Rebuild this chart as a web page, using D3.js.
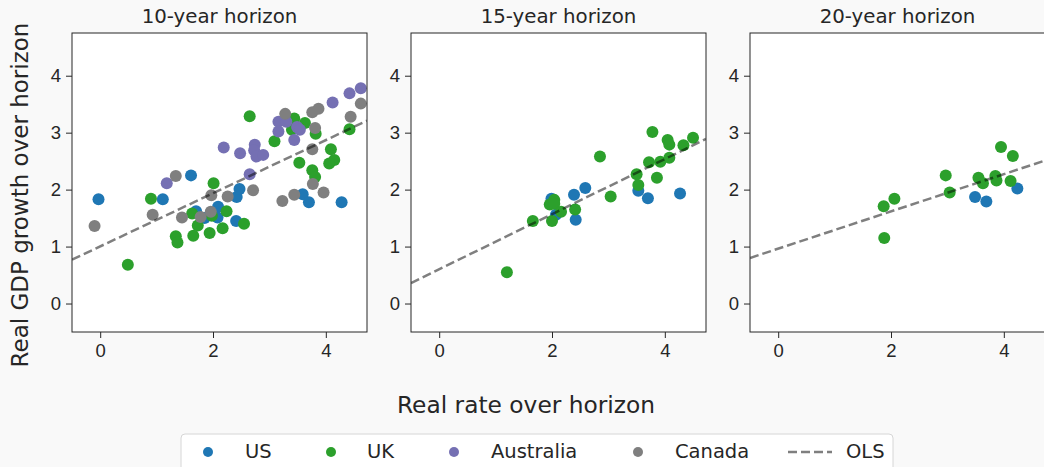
<!DOCTYPE html>
<html>
<head>
<meta charset="utf-8">
<script src="https://cdn.jsdelivr.net/npm/d3@7"></script>
<style>
  body { margin: 0; background: #f9f9f9; }
  svg { display: block; font-family: "DejaVu Sans", sans-serif; }
  .tick text { font-size: 18.5px; fill: #262626; }
  .tick line { stroke: #262626; }
</style>
</head>
<body>
<svg id="chart" width="1044" height="467"></svg>
<script>
// values: [real rate, real GDP growth]
const titles = ['10-year horizon', '15-year horizon', '20-year horizon'];
const countries = ['US', 'UK', 'Australia', 'Canada'];
const colors = ['#1f77b4', '#2ca02c', '#7570b3', '#7f7f7f'];
const xTicks = [0, 2, 4];
const yTicks = [0, 1, 2, 3, 4];

const us10 = [[-0.03, 1.83], [1.61, 2.25], [1.11, 1.83], [1.70, 1.62], [1.85, 1.50], [2.09, 1.70],
  [2.08, 1.51], [2.42, 1.87], [2.47, 2.01], [2.41, 1.45], [3.59, 1.92], [3.70, 1.78], [4.28, 1.78]];
const uk10 = [[0.49, 0.68], [0.90, 1.84], [1.34, 1.18], [1.37, 1.07], [1.65, 1.19], [1.63, 1.58],
  [1.73, 1.37], [1.94, 1.24], [1.98, 1.54], [2.17, 1.32], [2.01, 2.11], [2.24, 1.62], [2.55, 1.40],
  [2.65, 3.29], [3.09, 2.85], [3.44, 3.25], [3.63, 3.17], [3.40, 3.05], [3.82, 2.98], [3.53, 2.47],
  [3.76, 2.34], [3.81, 2.22], [4.09, 2.71], [4.15, 2.52], [4.06, 2.46], [4.42, 3.06]];
const aus10 = [[1.18, 2.11], [2.19, 2.74], [2.48, 2.64], [2.65, 2.27], [2.74, 2.79], [2.73, 2.69],
  [2.77, 2.58], [2.89, 2.61], [3.16, 3.19], [3.16, 3.02], [3.30, 3.19], [3.49, 3.10], [3.54, 3.05],
  [3.44, 2.87], [4.12, 3.53], [4.42, 3.69], [4.62, 3.78]];
const can10 = [[-0.10, 1.36], [0.93, 1.56], [1.34, 2.24], [1.45, 1.51], [1.78, 1.52], [1.96, 1.61],
  [1.97, 1.90], [2.26, 1.88], [2.71, 1.99], [3.28, 3.33], [3.23, 1.80], [3.44, 1.91], [3.77, 2.10],
  [3.76, 2.71], [3.81, 3.08], [3.76, 3.36], [3.87, 3.42], [3.96, 1.95], [4.44, 3.28], [4.62, 3.51]];

const us15 = [[1.99, 1.84], [2.07, 1.56], [2.39, 1.91], [2.59, 2.03], [2.42, 1.47], [3.53, 1.98],
  [3.70, 1.85], [4.27, 1.93]];
const uk15 = [[1.20, 0.55], [1.66, 1.45], [2.00, 1.45], [1.96, 1.74], [2.04, 1.82], [2.04, 1.75],
  [2.16, 1.61], [2.41, 1.65], [2.85, 2.58], [3.04, 1.88], [3.50, 2.27], [3.53, 2.08], [3.72, 2.48],
  [3.78, 3.01], [3.86, 2.21], [3.92, 2.49], [4.05, 2.87], [4.08, 2.79], [4.08, 2.56], [4.33, 2.78],
  [4.50, 2.91]];

const us20 = [[3.49, 1.87], [3.69, 1.79], [4.24, 2.02]];
const uk20 = [[1.87, 1.71], [2.06, 1.84], [1.88, 1.15], [2.97, 2.25], [3.04, 1.95], [3.55, 2.21],
  [3.63, 2.11], [3.85, 2.24], [3.87, 2.16], [3.95, 2.75], [4.16, 2.59], [4.12, 2.15]];

// fitted OLS lines, endpoints at the axis limits
const ols10 = [[-0.5, 0.77], [4.73, 3.21]];
const ols15 = [[-0.5, 0.36], [4.73, 2.89]];
const ols20 = [[-0.5, 0.80], [4.73, 2.51]];

const panels = [
  { title: titles[0], series: [us10, uk10, aus10, can10], ols: ols10 },
  { title: titles[1], series: [us15, uk15, [], []], ols: ols15 },
  { title: titles[2], series: [us20, uk20, [], []], ols: ols20 }
];

const svg = d3.select('#chart');
const lefts = [72, 411, 750];
const panelTop = 33;
const pw = 295;
const ph = 299;

const xScale = d3.scaleLinear().domain([-0.5, 4.73]).range([0, pw]);
const yScale = d3.scaleLinear().domain([-0.5, 4.75]).range([ph, 0]);

panels.forEach((p, i) => {
  const g = svg.append('g').attr('transform', `translate(${lefts[i]},${panelTop})`);

  g.append('rect')
    .attr('width', pw).attr('height', ph)
    .attr('fill', '#fff');

  const xAxisG = g.append('g')
    .attr('transform', `translate(0,${ph})`)
    .call(d3.axisBottom(xScale).tickValues(xTicks).tickFormat(d3.format('d')).tickSize(6).tickPadding(6));
  xAxisG.select('.domain').remove();

  const yAxisG = g.append('g')
    .call(d3.axisLeft(yScale).tickValues(yTicks).tickFormat(d3.format('d')).tickSize(6).tickPadding(5));
  yAxisG.select('.domain').remove();

  const clip = 'clip' + i;
  g.append('clipPath').attr('id', clip)
    .append('rect').attr('width', pw).attr('height', ph);

  const plot = g.append('g').attr('clip-path', `url(#${clip})`);

  p.series.forEach((pts, k) => {
    plot.selectAll('.c' + k).data(pts).enter().append('circle')
      .attr('class', 'c' + k)
      .attr('cx', d => xScale(d[0]))
      .attr('cy', d => yScale(d[1]))
      .attr('r', 6)
      .attr('fill', colors[k]);
  });

  const line = d3.line().x(d => xScale(d[0])).y(d => yScale(d[1]));
  plot.append('path')
    .datum(p.ols)
    .attr('d', line)
    .attr('fill', 'none')
    .attr('stroke', '#000')
    .attr('stroke-opacity', 0.5)
    .attr('stroke-width', 2.5)
    .attr('stroke-dasharray', '9,4');

  g.append('rect')
    .attr('width', pw).attr('height', ph)
    .attr('fill', 'none')
    .attr('stroke', '#262626')
    .attr('stroke-width', 1);

  g.append('text')
    .attr('x', pw / 2).attr('y', -10)
    .attr('text-anchor', 'middle')
    .style('font-size', '19.8px')
    .attr('fill', '#262626')
    .text(p.title);
});

// figure labels
svg.append('text')
  .attr('x', 526).attr('y', 413)
  .attr('text-anchor', 'middle')
  .style('font-size', '23.3px')
  .attr('fill', '#262626')
  .text('Real rate over horizon');

svg.append('text')
  .attr('transform', 'translate(28,195) rotate(-90)')
  .attr('text-anchor', 'middle')
  .style('font-size', '23px')
  .attr('fill', '#262626')
  .text('Real GDP growth over horizon');

// legend
const legend = svg.append('g');
legend.append('rect')
  .attr('x', 181).attr('y', 434)
  .attr('width', 712).attr('height', 50)
  .attr('rx', 4)
  .attr('fill', '#fff')
  .attr('stroke', '#d6d6d6');

const markX = [208, 331, 454, 638];
const textX = [245, 367, 491, 675];
countries.forEach((c, k) => {
  legend.append('circle')
    .attr('cx', markX[k]).attr('cy', 452).attr('r', 5)
    .attr('fill', colors[k]);
  legend.append('text')
    .attr('x', textX[k]).attr('y', 458)
    .style('font-size', '19.5px')
    .attr('fill', '#262626')
    .text(c);
});
legend.append('line')
  .attr('x1', 788).attr('x2', 832)
  .attr('y1', 452).attr('y2', 452)
  .attr('stroke', '#000')
  .attr('stroke-opacity', 0.5)
  .attr('stroke-width', 2.5)
  .attr('stroke-dasharray', '9,4');
legend.append('text')
  .attr('x', 846).attr('y', 458)
  .style('font-size', '19.5px')
  .attr('fill', '#262626')
  .text('OLS');
</script>
</body>
</html>
